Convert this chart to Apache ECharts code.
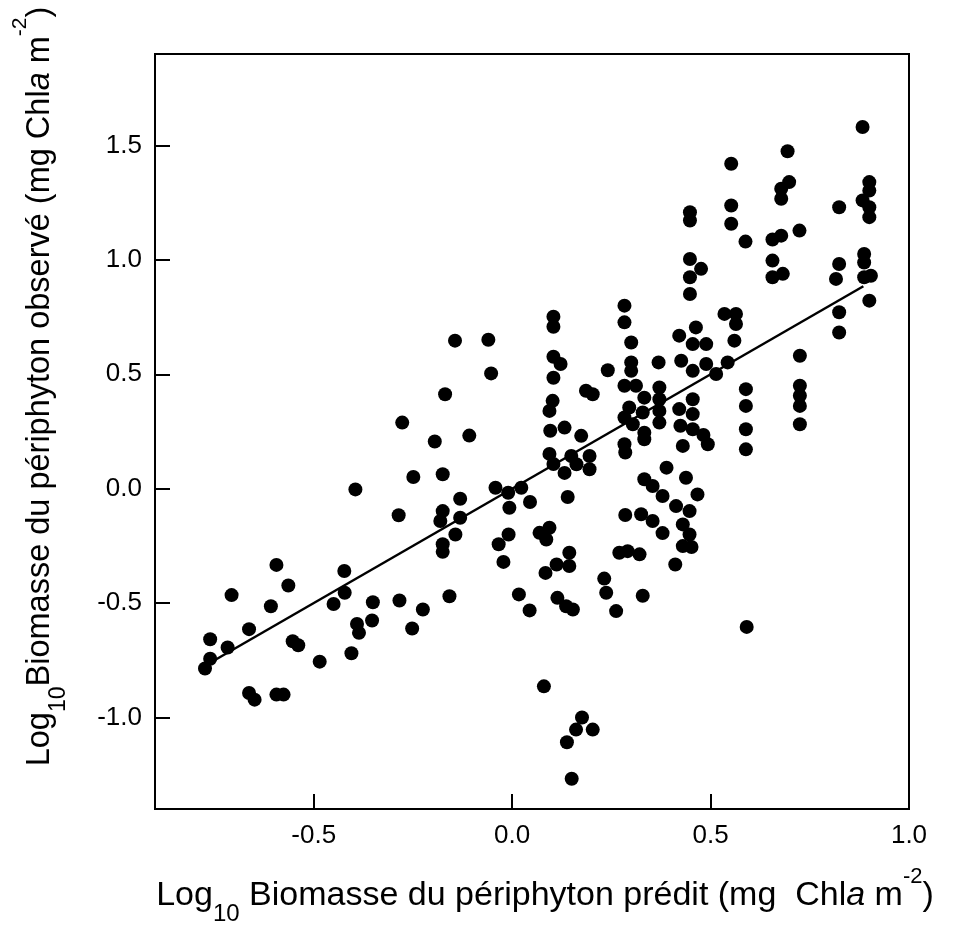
<!DOCTYPE html>
<html>
<head>
<meta charset="utf-8">
<script src="https://cdn.jsdelivr.net/npm/echarts@6/dist/echarts.min.js"></script>
<style>html,body{margin:0;padding:0;background:#fff;}#chart{width:961px;height:930px;}</style>
</head>
<body>
<div id="chart"></div>
<script>
const predicted = [
-0.774,-0.761,-0.761,-0.717,-0.707,-0.663,-0.663,-0.649,-0.608,-0.594,-0.594,-0.576,-0.564,-0.553,-0.539,-0.485,
-0.450,-0.423,-0.422,-0.405,-0.395,-0.391,-0.386,-0.353,-0.351,-0.286,-0.284,-0.277,-0.252,-0.249,-0.225,
-0.195,-0.181,-0.175,-0.175,-0.175,-0.175,-0.169,-0.158,-0.144,-0.143,-0.131,-0.131,-0.108,-0.060,-0.053,
-0.042,-0.034,-0.022,-0.010,-0.009,-0.007,0.017,0.023,0.044,0.045,0.069,0.080,0.084,0.086,0.094,0.112,0.114,
0.104,0.104,0.104,0.122,0.104,0.102,0.094,0.096,0.132,0.094,0.104,0.149,0.132,0.162,0.195,0.195,0.174,0.140,
0.144,0.144,0.153,0.136,0.186,0.203,0.138,0.150,0.161,0.176,0.203,
0.232,0.237,0.241,0.262,0.270,0.291,0.321,0.283,0.283,0.300,0.300,0.300,0.283,0.312,0.333,0.295,0.329,0.283,
0.304,0.333,0.333,0.283,0.285,0.285,0.325,0.329,0.333,0.354,0.379,0.354,0.379,0.369,0.371,0.371,0.371,0.371,0.389,
0.411,0.413,0.430,0.447,0.452,0.430,0.438,0.467,0.447,0.421,0.455,0.455,0.424,0.455,0.482,0.493,0.430,
0.448,0.448,0.448,0.476,0.448,0.448,0.421,0.463,0.455,0.489,0.426,0.455,0.489,0.514,0.543,0.535,0.564,0.564,0.560,
0.552,0.552,0.552,0.588,0.589,0.589,0.589,0.589,0.591,
0.694,0.698,0.678,0.678,0.724,0.678,0.656,0.656,0.656,0.682,0.725,0.725,0.725,0.725,0.725,
0.824,0.824,0.816,0.824,0.824,0.883,0.900,0.900,0.883,0.900,0.900,0.887,0.887,0.887,0.904,0.900
];
const observed = [
-0.786,-0.743,-0.658,-0.694,-0.465,-0.614,-0.893,-0.922,-0.514,-0.333,-0.900,-0.900,-0.423,-0.667,-0.684,-0.756,
-0.504,-0.360,-0.455,-0.719,-0.003,-0.591,-0.630,-0.576,-0.496,-0.116,-0.489,0.289,-0.611,0.051,-0.528,
0.206,-0.141,0.063,-0.098,-0.243,-0.276,0.413,-0.470,0.647,-0.200,-0.044,-0.127,0.232,0.651,0.504,
0.004,-0.243,-0.320,-0.018,-0.200,-0.083,-0.462,0.004,-0.532,-0.058,-0.193,-0.864,-0.368,-0.222,-0.171,-0.331,-0.477,
0.752,0.708,0.577,0.545,0.485,0.384,0.340,0.253,0.267,0.152,0.108,0.143,0.069,0.107,0.143,0.085,0.231,-0.036,
-0.280,-0.338,-0.528,-0.514,0.428,0.413,-1.108,-1.268,-1.053,-1.000,-1.053,
-0.393,-0.455,0.518,-0.535,-0.280,-0.273,-0.287,0.800,0.727,0.639,0.552,0.515,0.450,0.450,0.398,0.355,0.333,0.311,
0.282,0.245,0.216,0.194,0.158,-0.115,-0.112,-0.468,0.041,0.012,-0.032,-0.141,-0.194,0.552,0.442,0.391,0.340,0.289,0.092,
-0.331,-0.076,-0.156,-0.200,-0.255,-0.251,0.048,-0.025,-0.098,0.348,0.391,0.326,0.275,0.260,0.235,0.194,0.187,
1.208,1.172,1.004,0.961,0.924,0.851,0.669,0.705,0.632,0.632,0.559,0.515,0.545,0.501,0.552,0.764,0.764,0.720,0.647,
1.420,1.238,1.158,1.080,0.435,0.362,0.260,0.172,-0.604,
1.475,1.340,1.311,1.267,1.128,1.106,1.089,0.997,0.924,0.939,0.581,0.450,0.406,0.362,0.282,
1.230,0.982,0.917,0.771,0.683,1.581,1.340,1.303,1.260,1.230,1.187,1.026,0.989,0.924,0.931,0.822
];
// 1:1 line drawn in the figure (endpoints in data units)
const lineX = [-0.75, 0.885];
const lineY = [-0.75, 0.885];
// tick values
const xTicks = [-0.5, 0.0, 0.5, 1.0];
const yTicks = [-1.0, -0.5, 0.0, 0.5, 1.0, 1.5];
const xRange = [-0.9, 1.0];
const yRange = [-1.4, 1.9];

const points = predicted.map((x, i) => [x, observed[i]]);
const linePts = lineX.map((x, i) => [x, lineY[i]]);

const FONT = '"Liberation Sans", Arial, Helvetica, sans-serif';
function makeRich(size) {
  return {
    n: {fontSize: size, fontFamily: FONT, color: '#000', lineHeight: 60, verticalAlign: 'middle'},
    i: {fontSize: size, fontFamily: FONT, color: '#000', fontStyle: 'italic', lineHeight: 60, verticalAlign: 'middle'},
    sub: {fontSize: Math.round(size * 0.7), fontFamily: FONT, color: '#000', lineHeight: 25, verticalAlign: 'bottom'},
    sup: {fontSize: Math.round(size * 0.65), fontFamily: FONT, color: '#000', lineHeight: 8, verticalAlign: 'top'}
  };
}

const chart = echarts.init(document.getElementById('chart'), null, {renderer: 'canvas'});
chart.setOption({
  animation: false,
  backgroundColor: '#fff',
  grid: {left: 155, top: 54, right: 52, bottom: 121, containLabel: false, outerBoundsMode: 'none',
         show: true, borderColor: '#000', borderWidth: 2, backgroundColor: 'transparent'},
  xAxis: {
    type: 'value', min: xRange[0], max: xRange[1],
    axisLine: {show: true, onZero: false, lineStyle: {color: '#000', width: 2}},
    axisTick: {show: true, inside: true, length: 15, lineStyle: {color: '#000', width: 2}, customValues: xTicks},
    axisLabel: {customValues: xTicks, formatter: v => v.toFixed(1), fontSize: 26, fontFamily: FONT, color: '#000', margin: 14},
    splitLine: {show: false},
    name: '{n|Log}{sub|10}{n| Biomasse du périphyton prédit (mg  Chl}{i|a}{n| m}{sup|-2}{n|)}',
    nameLocation: 'middle', nameGap: 57,
    nameTextStyle: {rich: makeRich(34), fontSize: 34, fontFamily: FONT, color: '#000', padding: [0, 0, 0, 26]}
  },
  yAxis: {
    type: 'value', min: yRange[0], max: yRange[1],
    axisLine: {show: true, onZero: false, lineStyle: {color: '#000', width: 2}},
    axisTick: {show: true, inside: true, length: 15, lineStyle: {color: '#000', width: 2}, customValues: yTicks},
    axisLabel: {customValues: yTicks, formatter: v => v.toFixed(1), fontSize: 26, fontFamily: FONT, color: '#000', margin: 13},
    splitLine: {show: false},
    name: '{n|Log}{sub|10}{n|Biomasse du périphyton observé (mg Chl}{i|a}{n| m}{sup|-2}{n|)}',
    nameLocation: 'middle', nameGap: 85, nameRotate: 90,
    nameTextStyle: {rich: makeRich(32.5), fontSize: 32.5, fontFamily: FONT, color: '#000', padding: [0, 0, 0, 90]}
  },
  series: [
    {
      type: 'scatter', data: points, symbol: 'circle', symbolSize: 14,
      itemStyle: {color: '#000', opacity: 1}, emphasis: {disabled: true}, z: 3
    },
    {
      type: 'line', data: linePts, showSymbol: false, symbol: 'none',
      lineStyle: {color: '#000', width: 2.5}, emphasis: {disabled: true}, z: 2
    }
  ]
});
</script>
</body>
</html>
